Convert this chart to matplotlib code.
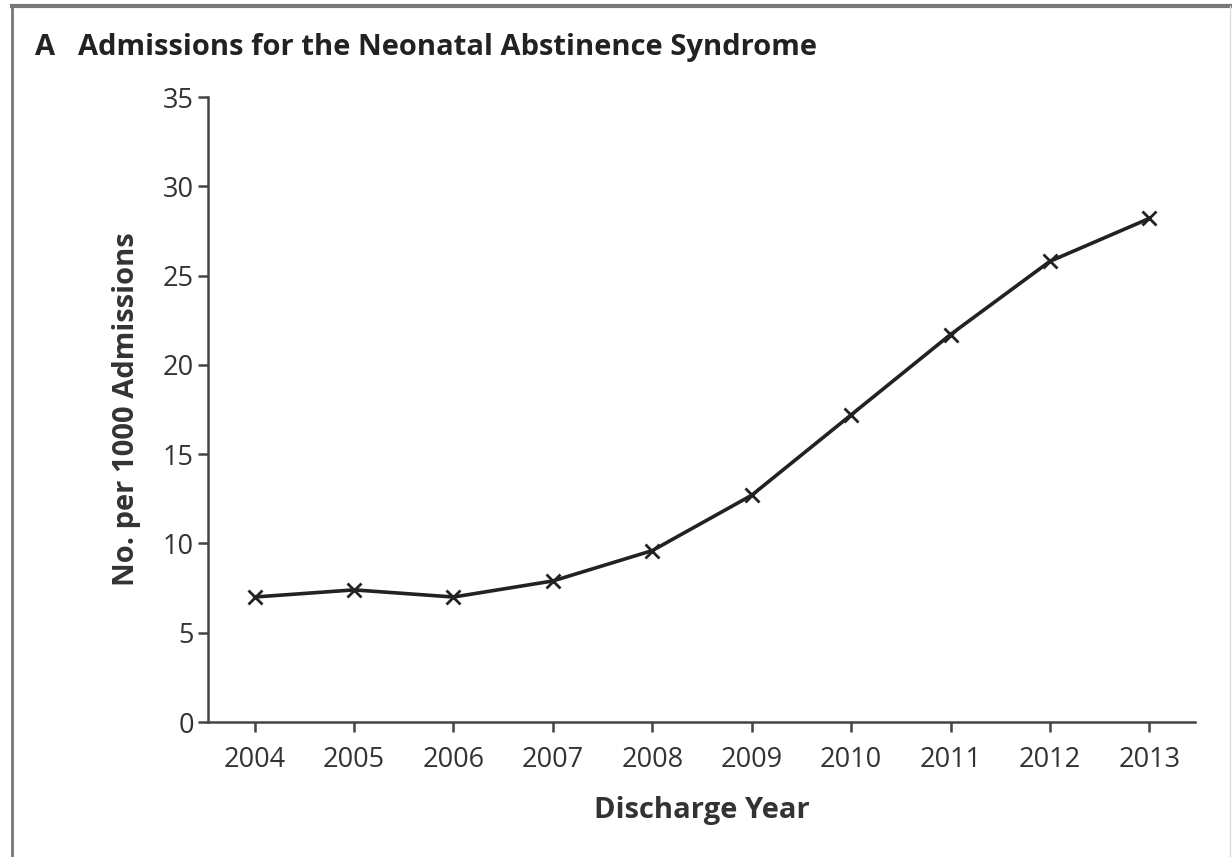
import matplotlib.pyplot as plt
from matplotlib.lines import Line2D

# data
years = [2004, 2005, 2006, 2007, 2008, 2009, 2010, 2011, 2012, 2013]
rate_per_1000 = [7.0, 7.4, 7.0, 7.9, 9.6, 12.7, 17.2, 21.7, 25.8, 28.2]
y_ticks = [0, 5, 10, 15, 20, 25, 30, 35]

plt.rcParams['font.family'] = ['Open Sans', 'DejaVu Sans']
txt = '#333333'

fig = plt.figure(figsize=(12.32, 8.57), dpi=100)
ax = fig.add_axes([0.1688, 0.1575, 0.8012, 0.7293])

ax.plot(years, rate_per_1000, color='#222222', lw=2.6, marker='x',
        markersize=10, markeredgewidth=2.0)

ax.set_xlim(2003.53, 2013.46)
ax.set_ylim(0, 35)
ax.set_xticks(years)
ax.set_yticks(y_ticks)
ax.tick_params(axis='both', direction='out', length=7, width=1.8,
               colors='#444444', labelcolor=txt, labelsize=19.5)
ax.tick_params(axis='x', pad=10)
ax.tick_params(axis='y', pad=3)

for s in ['top', 'right']:
    ax.spines[s].set_visible(False)
for s in ['left', 'bottom']:
    ax.spines[s].set_linewidth(1.8)
    ax.spines[s].set_color('#444444')

ax.set_xlabel('Discharge Year', fontsize=21, fontweight='bold', color=txt, labelpad=16)
ax.set_ylabel('No. per 1000 Admissions', fontsize=21, fontweight='bold', color=txt, labelpad=16)

fig.text(35 / 1232, 1 - 47 / 857, 'A   Admissions for the Neonatal Abstinence Syndrome',
         fontsize=21, fontweight='bold', color='#222222', va='center', ha='left')

# frame lines around the panel (top, left, right)
fig.add_artist(Line2D([12 / 1232, 1230 / 1232], [1 - 6 / 857, 1 - 6 / 857],
                      transform=fig.transFigure, color='#777777', lw=3))
fig.add_artist(Line2D([12 / 1232, 12 / 1232], [0, 1 - 6 / 857],
                      transform=fig.transFigure, color='#777777', lw=2))
fig.add_artist(Line2D([1230 / 1232, 1230 / 1232], [0, 1 - 6 / 857],
                      transform=fig.transFigure, color='#dddddd', lw=1))

fig.savefig('out.png', dpi=100)
